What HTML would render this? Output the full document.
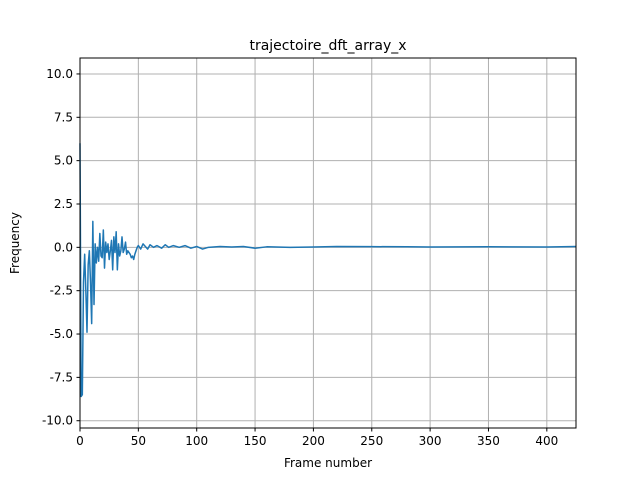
<!DOCTYPE html>
<html><head><meta charset="utf-8"><style>
body{margin:0;background:#fff}
svg{display:block;font-family:"DejaVu Sans","Liberation Sans",sans-serif}
</style></head><body>
<svg width="640" height="480">
<rect x="0" y="0" width="640" height="480" fill="#fff"/>
<g id="grid"></g>
<g id="ticks"></g>
<path id="line" fill="none" stroke="#1f77b4" stroke-width="1.5" stroke-linejoin="round"/>
<rect x="80" y="58" width="496" height="370" fill="none" stroke="#000" stroke-width="1"/>
<text x="328" y="50" text-anchor="middle" font-size="14">trajectoire_dft_array_x</text>
<text x="328" y="467" text-anchor="middle" font-size="12">Frame number</text>
<text transform="translate(19,243) rotate(-90)" text-anchor="middle" font-size="12">Frequency</text>
</svg>
<script>
const frames=[0,1,2,3,4,5,6,7,8,9,10,11,12,13,14,15,16,17,18,19,20,21,22,23,24,25,26,27,28,29,30,31,32,33,34,35,36,37,38,39,40,41,42,43,44,45,46,47,48,49,50,52,54,56,58,60,63,66,70,73,76,80,85,90,95,100,105,110,120,130,140,150,160,180,200,220,250,280,300,350,400,425];
const values=[6.0,-8.6,-8.5,-2.0,-0.4,-2.5,-4.9,-1.0,-0.2,-2.0,-4.4,1.5,-3.3,0.2,-0.9,0.0,-0.8,0.8,-0.5,-0.6,1.0,-1.2,0.3,-0.3,0.2,-0.7,-0.2,0.4,-1.3,0.6,-0.3,0.9,-1.3,0.2,-0.5,-0.2,0.6,-0.3,-0.1,0.3,-0.4,-0.2,-0.3,-0.4,-0.6,-0.5,-0.7,-0.4,-0.2,0.0,0.1,-0.1,0.2,0.05,-0.1,0.15,0.0,0.1,-0.05,0.15,0.0,0.1,0.0,0.1,-0.05,0.05,-0.1,0.0,0.05,0.02,0.05,-0.05,0.03,0.0,0.02,0.05,0.04,0.03,0.02,0.03,0.02,0.05];
const xTicks=[0,50,100,150,200,250,300,350,400];
const yTicks=[-10.0,-7.5,-5.0,-2.5,0.0,2.5,5.0,7.5,10.0];
const X0=80,X1=576,Y0=428,Y1=58,xmin=0,xmax=425,ymin=-10.42,ymax=10.92;
const sx=v=>X0+(v-xmin)/(xmax-xmin)*(X1-X0);
const sy=v=>Y0-(v-ymin)/(ymax-ymin)*(Y0-Y1);
const NS="http://www.w3.org/2000/svg";
const grid=document.getElementById('grid'),ticks=document.getElementById('ticks');
function mk(tag,attrs,parent){const e=document.createElementNS(NS,tag);for(const k in attrs)e.setAttribute(k,attrs[k]);parent.appendChild(e);return e;}
xTicks.forEach(t=>{const x=sx(t);
 const g=mk('line',{x1:x,x2:x,y1:Y1,y2:Y0,stroke:'#b0b0b0','stroke-width':1},grid);
 
 
 const tk=mk('line',{x1:x,x2:x,y1:Y0,y2:Y0+3.5,stroke:'#000'},ticks);
 
 
 const tx=mk('text',{x:x,y:Y0+17,'text-anchor':'middle','font-size':12},ticks);tx.textContent=t;
 
 
});
yTicks.forEach(t=>{const y=sy(t);
 const g=mk('line',{x1:X0,x2:X1,y1:y,y2:y,stroke:'#b0b0b0','stroke-width':1},grid);
 
 
 const tk=mk('line',{x1:X0-3.5,x2:X0,y1:y,y2:y,stroke:'#000'},ticks);
 
 
 const tx=mk('text',{x:X0-7,y:y+4,'text-anchor':'end','font-size':12},ticks);tx.textContent=t.toFixed(1);
 
 
});
document.getElementById('line').setAttribute('d',frames.map((f,i)=>(i?'L':'M')+sx(f).toFixed(2)+','+sy(values[i]).toFixed(2)).join(''));
</script>
</body></html>
